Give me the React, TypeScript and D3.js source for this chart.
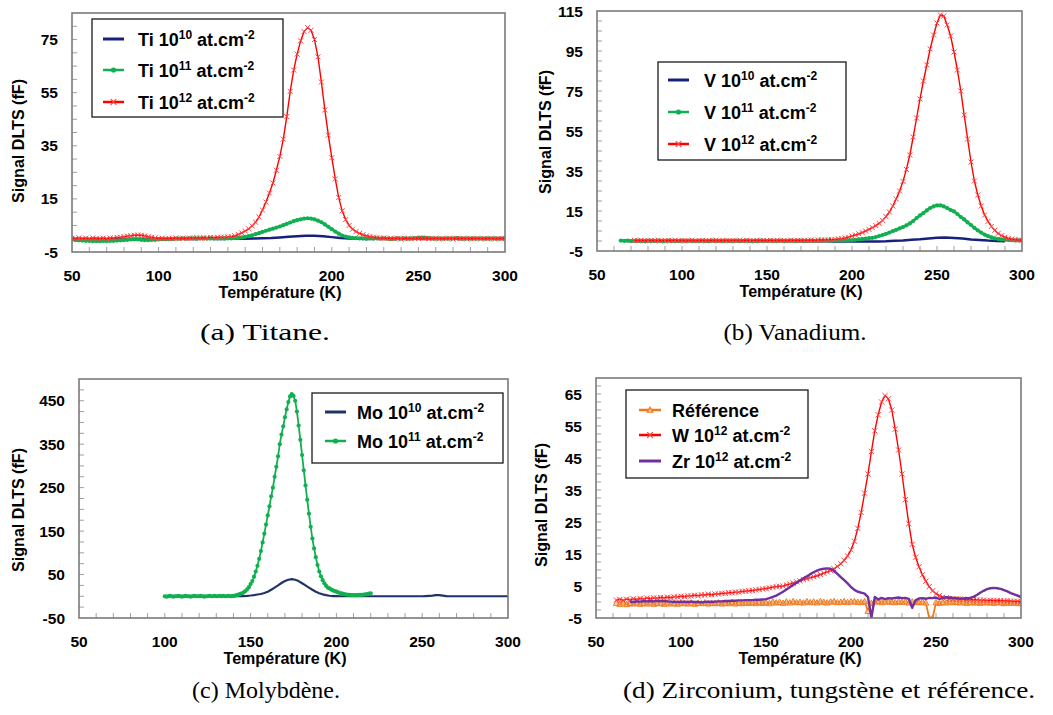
import React from "react";
import * as d3 from "d3";

// ---------------- Data ----------------
const TEMP_DOMAIN = [50, 300];
const TEMP_TICKS = [50, 100, 150, 200, 250, 300];

const tiYTicks = [-5, 15, 35, 55, 75];
const vYTicks = [-5, 15, 35, 55, 75, 95, 115];
const moYTicks = [-50, 50, 150, 250, 350, 450];
const dYTicks = [-5, 5, 15, 25, 35, 45, 55, 65];

// (a) Titane — T from 50 K, step 2 K
const tiStart = 50;
const tiRed = [
  0.2, 0.0, 0.3, -0.1, 0.2, 0.0, 0.3, 0.1, -0.1, 0.2,
  0.0, 0.3, 0.2, 0.5, 0.6, 0.8, 1.0, 1.1, 1.3, 1.4,
  1.3, 1.1, 0.8, 0.5, 0.3, 0.1, 0.2, 0.0, 0.2, 0.1,
  0.3, 0.0, 0.2, 0.1, 0.3, 0.2, 0.4, 0.2, 0.4, 0.3,
  0.5, 0.4, 0.5, 0.6, 0.6, 0.7, 0.8, 1.1, 1.6, 2.2,
  2.9, 3.7, 4.8, 6.2, 8.2, 10.8, 13.8, 17.2, 21, 25.8,
  31, 37.5, 46, 55.5, 63.5, 69.5, 74.5, 78, 79.5, 78.5,
  75, 68.5, 59, 48.5, 39, 30.5, 22.5, 15.5, 10.5, 7.2,
  5, 3.6, 2.7, 2.0, 1.5, 1.1, 0.8, 0.6, 0.4, 0.2,
  0.3, 0.1, 0.2, 0.0, 0.2, -0.1, 0.1, 0.2, 0.0, 0.2,
  0.1, 0.3, 0.2, 0.1, 0.0, 0.2, -0.1, 0.1, 0.0, 0.2,
  -0.1, 0.1, 0.0, 0.2, -0.1, 0.1, 0.0, 0.2, -0.1, 0.1,
  0.0, 0.2, -0.1, 0.1, 0.0, 0.1,
];
const tiGreen = [
  -0.3, -0.5, -0.6, -0.7, -0.8, -0.8, -0.9, -0.9, -0.9, -0.8,
  -0.9, -0.8, -0.8, -0.7, -0.6, -0.5, -0.4, -0.3, -0.2, -0.3,
  -0.4, -0.5, -0.5, -0.4, -0.4, -0.3, -0.2, -0.2, -0.1, -0.1,
  0.0, 0.0, 0.1, 0.0, 0.1, 0.1, 0.0, 0.1, 0.1, 0.0,
  0.1, 0.0, 0.1, 0.1, 0.0, 0.1, 0.1, 0.2, 0.3, 0.5,
  0.7, 1.0, 1.3, 1.7, 2.1, 2.6, 3.0, 3.4, 3.8, 4.2,
  4.6, 5.1, 5.6, 6.1, 6.6, 7.0, 7.3, 7.6, 7.7, 7.6,
  7.3, 6.8, 6.2, 5.4, 4.5, 3.6, 2.7, 1.9, 1.2, 0.8,
  0.5, 0.3, 0.2, 0.1, 0.1, 0.0, 0.1, 0.0, 0.1, 0.0,
  0.1, 0.0, -0.1, 0.0, 0.1, 0.0, 0.1, 0.0, 0.1, 0.2,
  0.3, 0.4, 0.3, 0.2, 0.1, 0.0, 0.1, 0.0, 0.1, 0.0,
  0.1, 0.2, 0.1, 0.0, 0.1, 0.0, 0.1, 0.0, 0.1, 0.0,
  0.1, 0.0, 0.1, 0.0, 0.1, 0.0,
];
// step 5 K from 50 K
const tiBlue = [
  0, 0, -0.1, 0, -0.1, 0, 0, -0.1, 0, 0,
  0, -0.1, 0, 0, -0.1, 0, 0, -0.1, 0, 0,
  0, 0.1, 0.2, 0.3, 0.5, 0.7, 0.9, 1.1, 1.1, 0.9,
  0.6, 0.3, 0.1, 0, -0.1, 0, 0, -0.1, 0, 0,
  0, -0.1, 0, 0, 0, -0.1, 0, 0, 0, 0,
  0,
];

// (b) Vanadium
const vRedStart = 72; // step 2
const vRed = [
  0.3, 0.1, 0.4, 0.2, 0.0, 0.3, 0.1, 0.4, 0.2, 0.0,
  0.3, 0.2, 0.4, 0.1, 0.3, 0.0, 0.2, 0.4, 0.1, 0.3,
  0.2, 0.0, 0.3, 0.2, 0.4, 0.1, 0.3, 0.2, 0.0, 0.3,
  0.1, 0.4, 0.2, 0.3, 0.0, 0.2, 0.4, 0.1, 0.3, 0.2,
  0.3, 0.1, 0.4, 0.2, 0.3, 0.1, 0.4, 0.2, 0.3, 0.2,
  0.4, 0.3, 0.5, 0.3, 0.5, 0.6, 0.5, 0.6, 0.7, 0.8,
  1.0, 1.2, 1.5, 1.9, 2.5, 3.0, 3.6, 4.2, 5.0, 5.8,
  6.7, 7.7, 8.8, 10.3, 12.2, 14.5, 17.5, 21, 25, 29.8,
  35.8, 43, 52, 61.5, 71, 80, 88, 96, 103, 109,
  113, 112.5, 108, 102.5, 94.5, 85.5, 75, 63, 51, 39.5,
  30, 23, 17.5, 13, 9.8, 7.3, 5.4, 3.8, 2.7, 1.9,
  1.3, 0.9, 0.7, 0.5, 0.4,
];
const vGreenStart = 64; // step 2
const vGreen = [
  0.2, 0.1, 0.2, 0.0, 0.1, 0.2, 0.1, 0.0, 0.2, 0.1,
  0.1, 0.2, 0.0, 0.1, 0.2, 0.1, 0.1, 0.0, 0.2, 0.1,
  0.2, 0.1, 0.0, 0.1, 0.2, 0.1, 0.0, 0.2, 0.1, 0.1,
  0.0, 0.2, 0.1, 0.1, 0.2, 0.0, 0.1, 0.2, 0.1, 0.0,
  0.1, 0.2, 0.1, 0.0, 0.2, 0.1, 0.1, 0.2, 0.0, 0.1,
  0.2, 0.1, 0.1, 0.2, 0.0, 0.1, 0.2, 0.1, 0.2, 0.1,
  0.2, 0.2, 0.1, 0.2, 0.3, 0.2, 0.3, 0.3, 0.4, 0.6,
  0.8, 1.0, 1.2, 1.4, 1.6, 2.0, 2.5, 3.0, 3.6, 4.2,
  4.9, 5.6, 6.3, 7.0, 7.8, 8.8, 10.0, 11.5, 12.8, 14.0,
  15.3, 16.5, 17.3, 17.8, 17.8, 17.3, 16.5, 15.5, 14.8, 13.5,
  12, 10.8, 9.3, 8.0, 6.6, 5.3, 4.2, 3.2, 2.4, 1.8,
  1.3, 1.0, 0.8, 0.6, 0.5, 0.4, 0.3, 0.3, 0.2,
];
const vBlueStart = 65; // step 5
const vBlue = [
  0.1, 0.0, 0.1, 0.0, 0.0, 0.1, 0.0, 0.1, 0.0, 0.0,
  0.1, 0.0, 0.0, 0.1, 0.0, 0.0, 0.1, 0.0, 0.0, 0.0,
  0.0, -0.1, 0.0, -0.1, -0.1, -0.2, -0.2, -0.3, -0.3, -0.3,
  -0.2, -0.1, 0.1, 0.3, 0.6, 0.9, 1.3, 1.6, 1.7, 1.5,
  1.2, 0.8, 0.5, 0.2, 0.0, -0.1,
];

// (c) Molybdène
const moGreenStart = 100; // step 1
const moGreen = [
  0, -1, 0, 1, 0, -1, 0, 0, 1, 0,
  -1, 0, 1, 0, 0, -1, 0, 1, 0, 0,
  0, 1, 0, -1, 0, 0, 1, 0, 0, 1,
  0, 0, 1, 0, 1, 0, 0, 1, 0, 0.3,
  0.8, 1.5, 2.5, 4, 5.5, 7, 9, 12, 16, 21,
  28, 35, 45, 57, 70, 86, 104, 124, 144, 165,
  186, 207, 230, 250, 275, 298, 322, 350, 372, 391,
  412, 430, 447, 460, 465, 461, 450, 425, 393, 360,
  325, 290, 255, 222, 190, 160, 133, 110, 90, 72,
  57, 46, 37, 30, 24, 20, 18, 15.5, 13.5, 12,
  10.5, 9, 7.5, 6.5, 5.5, 4.5, 4, 3.5, 3, 2.5,
  2.5, 2.5, 2.5, 3, 3, 3.5, 4, 4.5, 5, 6,
  7,
];
const moBlueStart = 100; // step 2
const moBlue = [
  0, 0, 0, 0, 0, 0, 0, 0, 0, 0,
  0, 0, 0, 0, 0, 0, 0, 0, 0, 0,
  0, 0, 0.2, 0.5, 1, 1.8, 2.8, 4, 5.3, 7.5,
  10.5, 15, 20, 25, 30.5, 35, 38, 39.5, 38, 35,
  30, 25, 20, 15, 10.5, 7, 4.5, 2.5, 1.2, 0.5,
  0.2, 0, 0, 0, 0, 0, 0, 0, 0, 0,
  0, 0, 0, 0, 0, 0, 0, 0, 0, 0,
  0, 0, 0, 0, 0, 0, 0.5, 1, 1.5, 2.5,
  2.5, 1.5, 0.5, 0, 0, 0, 0, 0, 0, 0,
  0, 0, 0, 0, 0, 0, 0, 0, 0, 0,
  0,
];

// (d) Zirconium, tungstène et référence
const refStart = 62; // step 2
const refValues = [
  -0.3, -0.6, -0.2, -0.7, -0.4, -0.5, -0.2, -0.6, -0.3, -0.5,
  -0.2, -0.6, -0.4, -0.3, -0.6, -0.2, -0.5, -0.3, -0.6, -0.2,
  -0.4, -0.5, -0.2, -0.6, -0.3, -0.4, -0.2, -0.5, -0.3, -0.4,
  -0.2, -0.5, -0.3, -0.4, -0.1, -0.5, -0.2, -0.4, -0.2, -0.3,
  -0.1, -0.4, 0.0, -0.3, -0.1, -0.4, 0.1, -0.2, 0.0, -0.3,
  0.1, -0.2, 0.2, -0.1, 0.0, -0.2, 0.2, -0.1, 0.1, -0.2,
  0.2, 0.0, -0.2, 0.1, 0.2, -0.1, 0.0, 0.2, -0.1, 0.1,
  0.2, 0.0, -0.1, 0.2, -2.8, -0.3, 0.1, 0.2, -0.1, 0.1,
  0.2, 0.0, -0.1, 0.2, 0.0, 0.1, -0.2, 0.1, 0.0, -0.1,
  0.1, -0.2, -5.0, -5.0, -0.1, -0.3, 0.0, -0.2, 0.1, -0.1,
  0.0, -0.2, 0.1, -0.3, 0.0, -0.2, -0.1, -0.3, 0.0, -0.2,
  -0.1, -0.3, 0.0, -0.2, -0.4, -0.1, -0.3, -0.2, -0.4, -0.3,
];
const wStart = 62; // step 2
const wValues = [
  0.6, 0.8, 0.5, 0.9, 0.7, 1.0, 0.8, 1.1, 0.9, 1.2,
  1.1, 1.3, 1.2, 1.4, 1.3, 1.5, 1.4, 1.6, 1.6, 1.8,
  1.7, 1.9, 1.9, 2.1, 2.0, 2.2, 2.2, 2.4, 2.3, 2.5,
  2.5, 2.7, 2.7, 2.9, 2.9, 3.1, 3.1, 3.3, 3.4, 3.5,
  3.6, 3.8, 3.9, 4.1, 4.2, 4.4, 4.6, 4.8, 4.9, 5.0,
  5.3, 5.6, 5.9, 6.3, 6.6, 7.0, 7.3, 7.6, 7.9, 8.2,
  8.6, 9.0, 9.4, 9.8, 10.4, 11.1, 12.0, 13.0, 14.4, 16.3,
  19, 23, 28, 34, 40, 47, 53.5, 58.5, 62.5, 64.5,
  63.5, 60, 54, 47.5, 40, 32, 24.5, 18, 14, 11,
  8.5, 6.5, 4.8, 3.5, 2.6, 2.0, 1.5, 1.3, 1.1, 1.0,
  1.0, 0.9, 0.9, 0.8, 0.8, 0.7, 0.7, 0.6, 0.6, 0.5,
  0.5, 0.5, 0.4, 0.4, 0.4, 0.3, 0.3, 0.2, 0.2, 0.1,
];
const zrStart = 70; // step 2
const zrValues = [
  0.1, 0.0, 0.2, 0.1, 0.3, 0.2, 0.3, 0.2, 0.4, 0.3,
  0.3, 0.2, 0.1, 0.0, 0.1, 0.0, 0.1, 0.0, 0.1, 0.0,
  0.0, -0.1, 0.0, 0.1, 0.0, 0.1, 0.2, 0.2, 0.3, 0.3,
  0.4, 0.4, 0.5, 0.5, 0.6, 0.6, 0.6, 0.7, 0.7, 0.8,
  0.9, 1.2, 1.6, 2.0, 2.6, 3.2, 3.9, 4.6, 5.3, 6.0,
  6.7, 7.4, 8.0, 8.7, 9.3, 9.8, 10.2, 10.4, 10.5, 10.4,
  9.7, 8.8, 7.8, 6.8, 5.8, 4.7, 3.8, 3.2, 2.9, 2.6,
  1.5, -5.0, 1.6, 0.8, 1.3, 0.9, 1.2, 1.1, 1.3, 1.4,
  1.2, 1.3, 1.0, -1.8, 0.5, 1.1, 1.2, 1.0, 1.3, 1.2,
  1.4, 1.0, 1.2, 1.5, 1.4, 1.3, 1.2, 1.1, 1.1, 1.2,
  1.3, 1.6, 2.2, 2.9, 3.5, 4.0, 4.3, 4.4, 4.3, 4.1,
  3.7, 3.3, 2.8, 2.4, 2.0, 1.5,
];

const tiLabels = [["Ti 10", "10"], ["Ti 10", "11"], ["Ti 10", "12"]];
const vLabels = [["V 10", "10"], ["V 10", "11"], ["V 10", "12"]];
const moLabels = [["Mo 10", "10"], ["Mo 10", "11"]];
const dLabels = [["Référence", ""], ["W 10", "12"], ["Zr 10", "12"]];

const captions = [
  "(a) Titane.",
  "(b) Vanadium.",
  "(c) Molybdène.",
  "(d) Zirconium, tungstène et référence.",
];

// ---------------- Styles ----------------
const SANS = "'Liberation Sans', Arial, sans-serif";
const SERIF = "'Liberation Serif', 'Times New Roman', serif";
const NAVY = "#18207e";
const MO_NAVY = "#1f3466";
const GREEN = "#10b050";
const RED = "#ff0000";
const RED_MK = "#ff4040";
const ORANGE = "#ee7a1e";
const PURPLE = "#7030a0";

type Marker = "none" | "x" | "dot" | "tri";
interface Series {
  start: number;
  step: number;
  values: number[];
  color: string;
  width: number;
  marker: Marker;
  mColor?: string;
  mSize?: number;
}

const mk = (start: number, step: number, values: number[], color: string, width: number, marker: Marker, mColor?: string, mSize?: number): Series =>
  ({ start, step, values, color, width, marker, mColor, mSize });

interface PanelCfg {
  id: string;
  x0: number; x1: number; y0: number; y1: number;
  yDomain: number[];
  yTicks: number[];
  yMinor: number;
  series: Series[];
  legendSeries: number[];
  labels: string[][];
  legend: { x: number; y: number; w: number; h: number; lx0: number; lx1: number; tx: number; rows: number[] };
  yTitle: { x: number; y: number };
  caption: { text: string; x: number; y: number; len: number };
}

const panels: PanelCfg[] = [
  {
    id: "a", x0: 72, x1: 505, y0: 13, y1: 252, yDomain: [-5, 85], yTicks: tiYTicks, yMinor: 5,
    series: [
      mk(tiStart, 5, tiBlue, NAVY, 2.5, "none"),
      mk(tiStart, 2, tiGreen, GREEN, 2.8, "dot", GREEN, 2.1),
      mk(tiStart, 2, tiRed, RED, 1.4, "x", RED_MK, 2.5),
    ],
    legendSeries: [0, 1, 2], labels: tiLabels,
    legend: { x: 92, y: 19, w: 191, h: 98, lx0: 103, lx1: 124, tx: 138, rows: [39, 70, 102] },
    yTitle: { x: 18, y: 141 },
    caption: { text: captions[0], x: 265, y: 340, len: 130 },
  },
  {
    id: "b", x0: 597, x1: 1022, y0: 11, y1: 251, yDomain: [-5, 115], yTicks: vYTicks, yMinor: 5,
    series: [
      mk(vBlueStart, 5, vBlue, NAVY, 2.5, "none"),
      mk(vGreenStart, 2, vGreen, GREEN, 2.8, "dot", GREEN, 2.1),
      mk(vRedStart, 2, vRed, RED, 1.4, "x", RED_MK, 2.5),
    ],
    legendSeries: [0, 1, 2], labels: vLabels,
    legend: { x: 658, y: 62, w: 188, h: 98, lx0: 668, lx1: 689, tx: 704, rows: [80, 112, 144] },
    yTitle: { x: 545, y: 132 },
    caption: { text: captions[1], x: 795, y: 340, len: 143 },
  },
  {
    id: "c", x0: 79, x1: 508, y0: 379, y1: 618, yDomain: [-50, 500], yTicks: moYTicks, yMinor: 25,
    series: [
      mk(moBlueStart, 2, moBlue, MO_NAVY, 2.2, "none"),
      mk(moGreenStart, 1, moGreen, GREEN, 1.8, "dot", GREEN, 2.1),
    ],
    legendSeries: [0, 1], labels: moLabels,
    legend: { x: 312, y: 393, w: 191, h: 70, lx0: 325, lx1: 346, tx: 357, rows: [412, 441] },
    yTitle: { x: 18, y: 510 },
    caption: { text: captions[2], x: 266, y: 698, len: 148 },
  },
  {
    id: "d", x0: 596, x1: 1021, y0: 378, y1: 618, yDomain: [-5, 70], yTicks: dYTicks, yMinor: 2.5,
    series: [
      mk(refStart, 2, refValues, ORANGE, 1.8, "tri", ORANGE, 3),
      mk(wStart, 2, wValues, RED, 1.4, "x", RED_MK, 2.6),
      mk(zrStart, 2, zrValues, PURPLE, 2.4, "none"),
    ],
    legendSeries: [0, 1, 2], labels: dLabels,
    legend: { x: 626, y: 390, w: 182, h: 88, lx0: 639, lx1: 661, tx: 672, rows: [410, 435, 461] },
    yTitle: { x: 541, y: 505 },
    caption: { text: captions[3], x: 829, y: 698, len: 412 },
  },
];

function markerPath(kind: Marker, px: number, py: number, s: number): string {
  if (kind === "x") return `M${px - s},${py - s}L${px + s},${py + s}M${px - s},${py + s}L${px + s},${py - s}`;
  if (kind === "tri") return `M${px},${py - s}L${px + s},${py + s * 0.8}L${px - s},${py + s * 0.8}Z`;
  return "";
}

function SeriesMarks({ s, x, y, clip }: { s: Series; x: any; y: any; clip: string }) {
  const pts: [number, number][] = s.values.map((v, i) => [s.start + i * s.step, v]);
  const line = d3.line<[number, number]>().x((d) => x(d[0])).y((d) => y(d[1]));
  let markers: React.ReactNode = null;
  if (s.marker === "dot") {
    markers = pts.map((d, i) => <circle key={i} cx={x(d[0])} cy={y(d[1])} r={s.mSize} fill={s.mColor} />);
  } else if (s.marker === "x" || s.marker === "tri") {
    const p = pts.map((d) => markerPath(s.marker, x(d[0]), y(d[1]), s.mSize || 2)).join("");
    markers = <path d={p} fill={s.marker === "tri" ? "#f6c49a" : "none"} fillOpacity={0.6} stroke={s.mColor} strokeWidth={1} />;
  }
  return (
    <g clipPath={`url(#${clip})`}>
      <path d={line(pts) || ""} fill="none" stroke={s.color} strokeWidth={s.width} strokeLinejoin="round" />
      {markers}
    </g>
  );
}

function LegendLabel({ x, y, base, exp }: { x: number; y: number; base: string; exp: string }) {
  return (
    <text x={x} y={y} fontFamily={SANS} fontWeight="bold" fontSize={18} fill="#000">
      {base}
      {exp ? (
        <>
          <tspan dy={-7} fontSize={12}>{exp}</tspan>
          <tspan dy={7}> at.cm</tspan>
          <tspan dy={-7} fontSize={12}>-2</tspan>
        </>
      ) : null}
    </text>
  );
}

function Panel({ c }: { c: PanelCfg }) {
  const x = d3.scaleLinear().domain(TEMP_DOMAIN).range([c.x0, c.x1]);
  const y = d3.scaleLinear().domain(c.yDomain).range([c.y1, c.y0]);
  const clip = `clip-${c.id}`;
  const xMinor = d3.range(TEMP_DOMAIN[0] + 10, TEMP_DOMAIN[1], 10);
  const yMinor = d3.range(c.yDomain[0] + c.yMinor, c.yDomain[1], c.yMinor);
  const midX = (c.x0 + c.x1) / 2 - 8.5;
  return (
    <g>
      <defs>
        <clipPath id={clip}>
          <rect x={c.x0} y={c.y0} width={c.x1 - c.x0} height={c.y1 - c.y0} />
        </clipPath>
      </defs>
      {/* minor ticks */}
      <g stroke="#a0a0a0" strokeWidth={1}>
        {xMinor.map((t) => (
          <line key={"xm" + t} x1={x(t)} x2={x(t)} y1={c.y1} y2={c.y1 - 5} />
        ))}
        {yMinor.map((t) => (
          <line key={"ym" + t} x1={c.x0} x2={c.x0 + 5} y1={y(t)} y2={y(t)} />
        ))}
      </g>
      {c.series.map((s, i) => (
        <SeriesMarks key={i} s={s} x={x} y={y} clip={clip} />
      ))}
      <rect x={c.x0} y={c.y0} width={c.x1 - c.x0} height={c.y1 - c.y0} fill="none" stroke="#7a7a7a" strokeWidth={1.6} />
      {/* tick labels */}
      {TEMP_TICKS.map((t) => (
        <text key={"xt" + t} x={x(t)} y={c.y1 + 29} textAnchor="middle" fontFamily={SANS} fontWeight="bold" fontSize={15.5}>
          {t}
        </text>
      ))}
      {c.yTicks.map((t) => (
        <text key={"yt" + t} x={c.x0 - 14} y={y(t) + 5.6} textAnchor="end" fontFamily={SANS} fontWeight="bold" fontSize={15.5}>
          {t}
        </text>
      ))}
      <text x={midX} y={c.y1 + 46} textAnchor="middle" fontFamily={SANS} fontWeight="bold" fontSize={16} textLength={123} lengthAdjust="spacingAndGlyphs">
        Température (K)
      </text>
      <text
        transform={`translate(${c.yTitle.x},${c.yTitle.y}) rotate(-90)`}
        textAnchor="middle"
        dy={5.5}
        fontFamily={SANS}
        fontWeight="bold"
        fontSize={16}
        textLength={124}
        lengthAdjust="spacingAndGlyphs"
      >
        Signal DLTS (fF)
      </text>
      {/* legend */}
      <rect x={c.legend.x} y={c.legend.y} width={c.legend.w} height={c.legend.h} fill="#fff" stroke="#1a1a1a" strokeWidth={1.3} />
      {c.legendSeries.map((si, k) => {
        const s = c.series[si];
        const ry = c.legend.rows[k];
        const mx = (c.legend.lx0 + c.legend.lx1) / 2;
        return (
          <g key={"lg" + k}>
            <line x1={c.legend.lx0} x2={c.legend.lx1} y1={ry} y2={ry} stroke={s.color} strokeWidth={s.marker === "none" ? 3 : 2.5} />
            {s.marker === "dot" ? <circle cx={mx} cy={ry} r={2.6} fill={s.mColor} /> : null}
            {s.marker === "x" || s.marker === "tri" ? (
              <path d={markerPath(s.marker, mx, ry, 2.8)} fill={s.marker === "tri" ? "#f6c49a" : "none"} stroke={s.mColor} strokeWidth={1.2} />
            ) : null}
            <LegendLabel x={c.legend.tx} y={ry + 6.5} base={c.labels[k][0]} exp={c.labels[k][1]} />
          </g>
        );
      })}
      {/* caption */}
      <text x={c.caption.x} y={c.caption.y} textAnchor="middle" fontFamily={SERIF} fontSize={24} textLength={c.caption.len} lengthAdjust="spacingAndGlyphs">
        {c.caption.text}
      </text>
    </g>
  );
}

export default function App() {
  return (
    <svg width={1053} height={715} viewBox="0 0 1053 715" style={{ position: "absolute", left: 0, top: 0, background: "#fff" }}>
      <rect x={0} y={0} width={1053} height={715} fill="#fff" />
      {panels.map((p) => (
        <Panel key={p.id} c={p} />
      ))}
    </svg>
  );
}
